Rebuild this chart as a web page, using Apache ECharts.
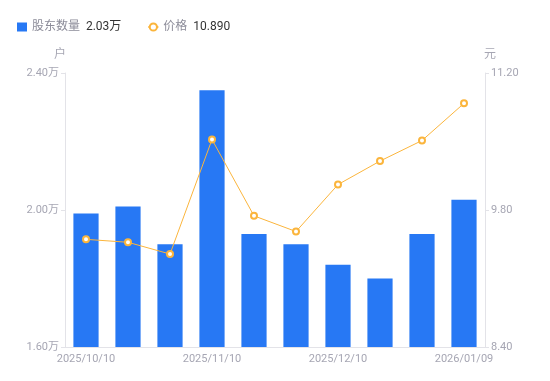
<!DOCTYPE html>
<html><head><meta charset="utf-8">
<script src="https://cdn.jsdelivr.net/npm/echarts@6/dist/echarts.min.js"></script>
<style>html,body{margin:0;padding:0;background:#fff}#c{width:550px;height:381px}</style>
</head><body><div id="c"></div>
<script>
const categories = ['2025/10/10','2025/10/20','2025/10/31','2025/11/10','2025/11/20','2025/11/28','2025/12/10','2025/12/19','2025/12/31','2026/01/09'];
const holders = [1.99, 2.01, 1.90, 2.35, 1.93, 1.90, 1.84, 1.80, 1.93, 2.03];
const prices = [9.50, 9.47, 9.35, 10.52, 9.74, 9.58, 10.06, 10.30, 10.51, 10.89];
const legendValues = {'股东数量': '2.03万', '价格': '10.890'};

const font = 'Roboto, "Noto Sans CJK SC", sans-serif';
const chart = echarts.init(document.getElementById('c'));
chart.setOption({
  animation: false,
  textStyle: {fontFamily: font},
  legend: {
    left: 12, top: 16, itemWidth: 10, itemHeight: 9, itemGap: 26,
    data: [{name: '股东数量', icon: 'rect'}, {name: '价格'}],
    formatter: n => '{n|' + n + '}  {v|' + legendValues[n] + '}',
    textStyle: {rich: {n: {color: '#8c8c99', fontSize: 12, fontFamily: font}, v: {color: '#333', fontSize: 12, fontFamily: font}}}
  },
  grid: {left: 65, right: 65, top: 73, bottom: 34},
  xAxis: {
    type: 'category', data: categories,
    axisLine: {lineStyle: {color: '#e3e3e8'}},
    axisTick: {show: false},
    axisLabel: {interval: 2, color: '#a6a6b3', fontSize: 11, margin: 7}
  },
  yAxis: [{
    type: 'value', min: 1.6, max: 2.4, interval: 0.4, name: '户',
    nameTextStyle: {color: '#a6a6b3', fontSize: 12, padding: [0, 10, 0, 0]}, nameGap: 12,
    axisLine: {show: true, lineStyle: {color: '#e3e3e8'}},
    axisTick: {show: true, length: 4, lineStyle: {color: '#e3e3e8'}},
    splitLine: {show: false},
    axisLabel: {color: '#a6a6b3', fontSize: 11, margin: 6, formatter: v => v.toFixed(2) + '万'}
  }, {
    type: 'value', min: 8.4, max: 11.2, interval: 1.4, name: '元',
    nameTextStyle: {color: '#a6a6b3', fontSize: 12, padding: [0, 0, 0, 10]}, nameGap: 12,
    axisLine: {show: true, lineStyle: {color: '#e3e3e8'}},
    axisTick: {show: true, length: 4, lineStyle: {color: '#e3e3e8'}},
    splitLine: {show: false},
    axisLabel: {color: '#a6a6b3', fontSize: 11, margin: 6, formatter: v => v.toFixed(2)}
  }],
  series: [{
    name: '股东数量', type: 'bar', data: holders, barWidth: '60%',
    itemStyle: {color: '#2778f4'}
  }, {
    name: '价格', type: 'line', yAxisIndex: 1, data: prices,
    symbol: 'emptyCircle', symbolSize: 6,
    lineStyle: {color: '#fbb53c', width: 1},
    itemStyle: {color: '#fbb53c', borderWidth: 2}
  }]
});
</script></body></html>
